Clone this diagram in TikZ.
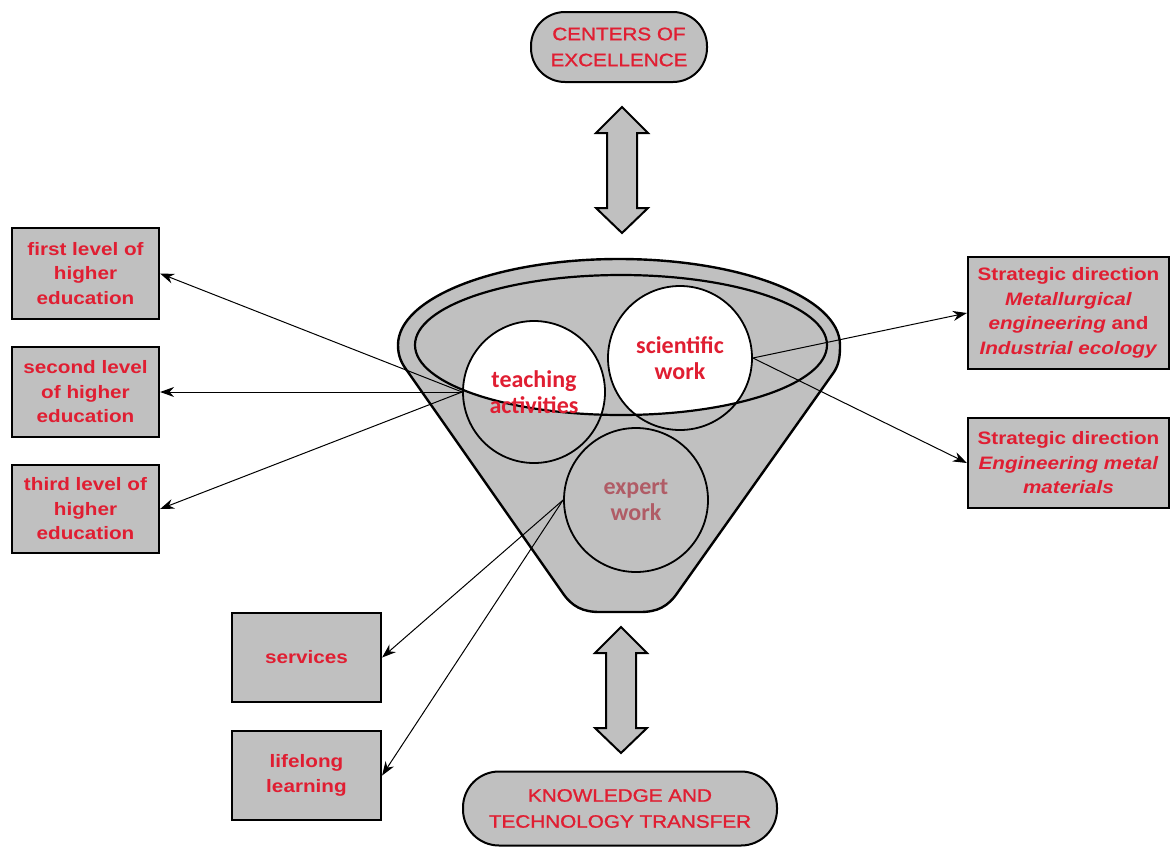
\documentclass[tikz,border=0pt]{standalone}
\usepackage{fontspec}
\setmainfont{Liberation Sans}
\newfontfamily\labelfont[FakeStretch=1.15]{Liberation Sans}
\newfontfamily\pillfont[FakeStretch=1.15,FakeBold=1.2]{Liberation Sans}
\newfontfamily\roundfont{Carlito}
\usetikzlibrary{arrows.meta}
\definecolor{panelgray}{RGB}{192,192,192}
\definecolor{labelred}{RGB}{224,30,50}
\definecolor{fadedred}{RGB}{176,92,102}
\tikzset{
  box/.style={draw=black, line width=2.2pt, fill=panelgray, inner sep=0pt,
    align=center, text=labelred, font=\labelfont\bfseries\fontsize{18}{24.5}\selectfont},
  pill/.style={draw=black, line width=2pt, fill=panelgray, inner sep=0pt,
    align=center, text=labelred, font=\pillfont\fontsize{18}{26}\selectfont},
  area/.style={circle, draw=black, line width=1.8pt, inner sep=0pt, minimum size=142pt,
    align=center, text=labelred, font=\roundfont\bfseries\fontsize{24}{26.5}\selectfont},
  link/.style={draw=black, line width=1pt, -{Stealth[length=14pt,width=10pt]}},
  funnel/.style={draw=black, line width=2.4pt, fill=panelgray, line join=round},
  twoway/.pic={
    \draw[line width=2pt, fill=panelgray]
      (0,-63) -- (26,-37) -- (15,-37) -- (15,38) -- (26,38) -- (0,63)
      -- (-26,38) -- (-15,38) -- (-15,-37) -- (-26,-37) -- cycle;
  },
}
\begin{document}
\begin{tikzpicture}[x=1pt,y=-1pt]
\useasboundingbox (0,0) rectangle (1171,847);
\fill[white] (0,0) rectangle (1171,847);

% funnel body: elliptic top, straight sides, rounded foot
\draw[funnel] (398,345) .. controls (398,357) and (402,364) .. (408,372)
  -- (562,592) .. controls (572,607) and (583,612) .. (600,612)
  -- (640,612) .. controls (657,612) and (668,607) .. (678,592)
  -- (834,372) .. controls (839,364) and (840,357) .. (840,345)
  .. controls (840,297.5) and (741,259) .. (619,259)
  .. controls (497,259) and (398,297.5) .. (398,345) -- cycle;

% white parts of the upper circles inside the rim
\begin{scope}
  \clip (621,345) ellipse [x radius=206, y radius=70];
  \fill[white] (534,392) circle [radius=71];
  \fill[white] (680,358) circle [radius=72];
\end{scope}
\draw[line width=2.2pt] (621,345) ellipse [x radius=206, y radius=70];

\node[area] (teach) at (534,392) {teaching\\activities};
\node[area, minimum size=144pt] (sci) at (680,358) {scientific\\work};
\node[area, minimum size=144pt, text=fadedred] (expert) at (636,500) {expert\\work};

% outer boxes
\node[box, minimum width=147pt, minimum height=91pt] (lvl1) at (85.5,273.5) {first level of\\higher\\education};
\node[box, minimum width=147pt, minimum height=90pt] (lvl2) at (85.5,392) {second level\\of higher\\education};
\node[box, minimum width=147pt, minimum height=88pt] (lvl3) at (85.5,509) {third level of\\higher\\education};
\node[box, minimum width=201pt, minimum height=112pt] (dirA) at (1068.5,313)
  {Strategic direction\\\textit{Metallurgical}\\\textit{engineering} and\\\textit{Industrial ecology}};
\node[box, minimum width=201pt, minimum height=90pt] (dirB) at (1068.5,463)
  {Strategic direction\\\textit{Engineering metal}\\\textit{materials}};
\node[box, minimum width=149pt, minimum height=89pt] (serv) at (306.5,657.5) {services};
\node[box, minimum width=149pt, minimum height=89pt] (life) at (306.5,775.5) {lifelong\\learning};

% rounded end nodes
\node[pill, rounded corners=34pt, minimum width=176pt, minimum height=70pt] (coe) at (619,47) {CENTERS OF\\EXCELLENCE};
\node[pill, rounded corners=36pt, minimum width=314pt, minimum height=74pt] (ktt) at (620,808.5) {KNOWLEDGE AND\\TECHNOLOGY TRANSFER};

% two-way arrows
\pic at (622,170) {twoway};
\pic at (621,690) {twoway};

% connectors
\draw[link] (teach.west) -- (lvl1.east);
\draw[link] (teach.west) -- (lvl2.east);
\draw[link] (teach.west) -- (lvl3.east);
\draw[link] (sci.east) -- (dirA.west);
\draw[link] (sci.east) -- (dirB.west);
\draw[link] (expert.west) -- (serv.east);
\draw[link] (expert.west) -- (life.east);
\end{tikzpicture}
\end{document}
